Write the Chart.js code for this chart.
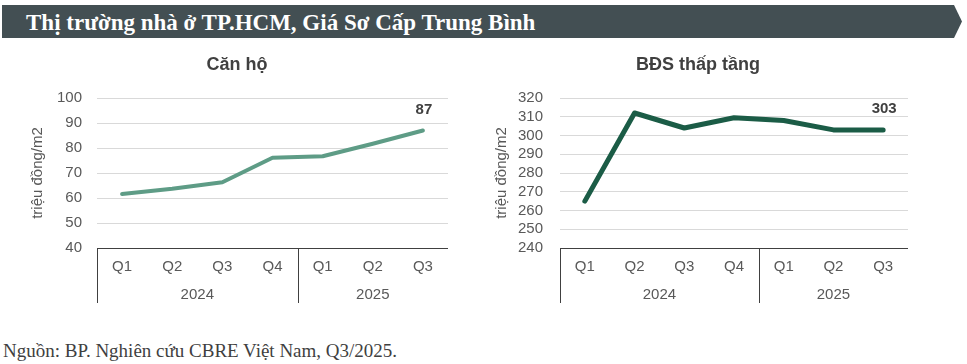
<!DOCTYPE html>
<html>
<head>
<meta charset="utf-8">
<script src="https://cdn.jsdelivr.net/npm/chart.js@4/dist/chart.umd.min.js"></script>
<style>
  html, body { margin:0; padding:0; background:#fff; width:967px; height:364px; overflow:hidden; }
  #banner { position:absolute; left:2px; top:5px; width:960px; height:33px; background:#434f53;
    clip-path: polygon(0 0, 952px 0, 960px 50%, 952px 100%, 0 100%); }
  #banner span { position:absolute; left:24px; top:1px; line-height:33px; font-family:"Liberation Serif", serif;
    font-weight:bold; font-size:23px; color:#fff; white-space:nowrap; }
  #source { position:absolute; left:3px; top:341px; line-height:20px; font-family:"Liberation Serif", serif;
    font-size:19px; color:#3f3f3f; white-space:nowrap; }
  canvas { position:absolute; }
</style>
</head>
<body>
<div id="banner"><span>Thị trường nhà ở TP.HCM, Giá Sơ Cấp Trung Bình</span></div>
<canvas id="c1" width="422" height="262" style="left:26px; top:48px;"></canvas>
<canvas id="c2" width="420" height="262" style="left:488px; top:48px;"></canvas>
<div id="source">Nguồn: BP. Nghiên cứu CBRE Việt Nam, Q3/2025.</div>
<script>
const quarters = ['Q1','Q2','Q3','Q4','Q1','Q2','Q3'];
const years = ['2024','2025'];
const yearSpans = [4, 3];
const canHo = [61.6, 63.7, 66.3, 76.1, 76.7, 81.7, 87];
const thapTang = [265, 312, 304, 309.5, 308, 303, 303];
const titleLeft = 'Căn hộ';
const titleRight = 'BĐS thấp tầng';
const yTitle = 'triệu đồng/m2';

const groupPlugin = {
  id: 'groupBox',
  afterDraw(chart) {
    const ctx = chart.ctx;
    const x = chart.scales.x;
    const area = chart.chartArea;
    const bottom = area.bottom + 55;
    ctx.save();
    ctx.strokeStyle = '#404040';
    ctx.lineWidth = 1;
    const step = x.getPixelForValue(1) - x.getPixelForValue(0);
    let start = 0;
    const edges = [x.getPixelForValue(0) - step/2];
    yearSpans.forEach(n => { start += n; edges.push(x.getPixelForValue(start - 1) + step/2); });
    ctx.beginPath();
    edges.forEach(e => { const xx = Math.round(e) + 0.5; ctx.moveTo(xx, area.bottom); ctx.lineTo(xx, bottom); });
    ctx.stroke();
    ctx.fillStyle = '#595959';
    ctx.font = '15px "Liberation Sans", Arial, sans-serif';
    ctx.textAlign = 'center';
    ctx.textBaseline = 'middle';
    years.forEach((y, i) => { ctx.fillText(y, (edges[i] + edges[i+1]) / 2, area.bottom + 47); });
    const meta = chart.getDatasetMeta(0);
    const last = meta.data[meta.data.length - 1];
    const ds = chart.data.datasets[0].data;
    ctx.fillStyle = '#404040';
    ctx.font = 'bold 15px "Liberation Sans", Arial, sans-serif';
    ctx.fillText(String(ds[ds.length - 1]), last.x + 1, last.y - 21);
    ctx.restore();
  }
};

function makeChart(id, data, color, width, min, max, title, yw, titlePad, tickPad) {
  return new Chart(document.getElementById(id), {
    type: 'line',
    data: { labels: quarters, datasets: [{ data, borderColor: color, borderWidth: width, pointRadius: 0, tension: 0, borderJoinStyle: 'round', borderCapStyle: 'round' }] },
    options: {
      responsive: false, animation: false, devicePixelRatio: 1,
      layout: { padding: 0 },
      plugins: {
        legend: { display: false }, tooltip: { enabled: false },
        title: { display: true, text: title, color: '#404040', font: { family: '"Liberation Sans", Arial, sans-serif', size: 18, weight: 'bold', lineHeight: 1.2 }, padding: { top: 6, bottom: 22.4 } }
      },
      scales: {
        x: {
          offset: true,
          grid: { display: false, drawTicks: false },
          border: { display: true, color: '#404040', width: 1 },
          ticks: { color: '#595959', font: { family: '"Liberation Sans", Arial, sans-serif', size: 15 }, padding: 10, maxRotation: 0, autoSkip: false },
          afterFit(s) { s.height = 62; }
        },
        y: {
          min, max,
          grid: { color: '#d9d9d9', drawTicks: false, lineWidth: 1 },
          border: { display: false },
          ticks: { stepSize: 10, autoSkip: false, color: '#595959', font: { family: '"Liberation Sans", Arial, sans-serif', size: 15 }, padding: tickPad },
          title: { display: true, text: yTitle, color: '#595959', font: { family: '"Liberation Sans", Arial, sans-serif', size: 15, lineHeight: 1.2 }, padding: { top: titlePad, bottom: 0 } },
          afterFit(s) { s.width = yw; }
        }
      }
    },
    plugins: [groupPlugin]
  });
}

makeChart('c1', canHo, '#5e9c86', 4, 40, 100, titleLeft, 71, 3, 15);
makeChart('c2', thapTang, '#1b5c46', 5, 240, 320, titleRight, 72, 5, 17);
</script>
</body>
</html>
